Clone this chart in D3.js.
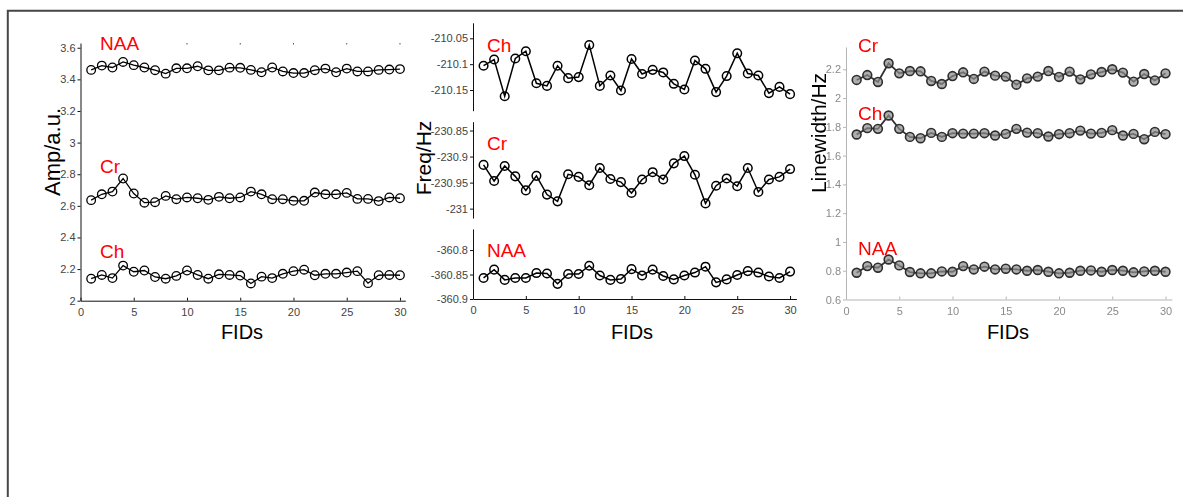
<!DOCTYPE html>
<html>
<head>
<meta charset="utf-8">
<script src="https://cdn.jsdelivr.net/npm/d3@7"></script>
<style>
  html, body { margin: 0; padding: 0; background: #fff; }
  svg { display: block; font-family: "Liberation Sans", Arial, sans-serif; }
</style>
</head>
<body>
<svg id="chart" width="1183" height="497"></svg>
<script>
// FID index shared by every panel
const fids = d3.range(1, 31);
const xTicks = [0, 5, 10, 15, 20, 25, 30];

// Amplitude (a.u.)
const ampNAA = [3.46, 3.487, 3.475, 3.51, 3.49, 3.475, 3.458, 3.436, 3.47, 3.47,
                3.483, 3.457, 3.457, 3.474, 3.473, 3.46, 3.445, 3.475, 3.45, 3.44,
                3.44, 3.458, 3.468, 3.445, 3.468, 3.45, 3.45, 3.46, 3.462, 3.465];
const ampCr  = [2.636, 2.673, 2.69, 2.773, 2.678, 2.62, 2.623, 2.663, 2.642, 2.653,
                2.648, 2.638, 2.657, 2.648, 2.653, 2.69, 2.673, 2.642, 2.642, 2.632,
                2.632, 2.684, 2.673, 2.673, 2.682, 2.644, 2.644, 2.63, 2.653, 2.648];
const ampCh  = [2.139, 2.163, 2.143, 2.222, 2.183, 2.191, 2.15, 2.139, 2.157, 2.191,
                2.163, 2.139, 2.167, 2.163, 2.159, 2.109, 2.152, 2.143, 2.17, 2.187,
                2.196, 2.161, 2.17, 2.17, 2.178, 2.187, 2.111, 2.161, 2.163, 2.161];
const ampTicks = [2, 2.2, 2.4, 2.6, 2.8, 3, 3.2, 3.4, 3.6];

// Frequency (Hz)
const freqCh  = [-210.103, -210.091, -210.162, -210.089, -210.075, -210.137, -210.142, -210.103, -210.127, -210.125,
                 -210.063, -210.142, -210.122, -210.151, -210.09, -210.119, -210.111, -210.116, -210.138, -210.149,
                 -210.093, -210.109, -210.154, -210.123, -210.079, -210.118, -210.122, -210.156, -210.144, -210.158];
const freqCr  = [-230.916, -230.947, -230.918, -230.938, -230.965, -230.937, -230.973, -230.986, -230.934, -230.939,
                 -230.955, -230.922, -230.943, -230.949, -230.97, -230.944, -230.93, -230.944, -230.913, -230.899,
                 -230.935, -230.99, -230.956, -230.942, -230.957, -230.922, -230.968, -230.944, -230.939, -230.924];
const freqNAA = [-360.857, -360.84, -360.861, -360.857, -360.857, -360.847, -360.848, -360.869, -360.849, -360.849,
                 -360.832, -360.852, -360.861, -360.859, -360.839, -360.852, -360.84, -360.853, -360.86, -360.852,
                 -360.846, -360.834, -360.866, -360.86, -360.851, -360.843, -360.846, -360.854, -360.857, -360.844];
const freqChTicks  = [-210.15, -210.1, -210.05];
const freqCrTicks  = [-231, -230.95, -230.9, -230.85];
const freqNAATicks = [-360.9, -360.85, -360.8];

// Linewidth (Hz)
const lwCr  = [2.126, 2.16, 2.112, 2.242, 2.172, 2.188, 2.186, 2.119, 2.098, 2.153,
               2.179, 2.133, 2.184, 2.156, 2.149, 2.093, 2.137, 2.149, 2.188, 2.147,
               2.184, 2.13, 2.165, 2.181, 2.2, 2.177, 2.114, 2.167, 2.123, 2.172];
const lwCh  = [1.747, 1.791, 1.786, 1.879, 1.786, 1.73, 1.721, 1.758, 1.73, 1.756,
               1.753, 1.753, 1.756, 1.74, 1.751, 1.786, 1.76, 1.756, 1.733, 1.749,
               1.756, 1.774, 1.753, 1.758, 1.777, 1.74, 1.751, 1.714, 1.765, 1.749];
const lwNAA = [0.786, 0.832, 0.821, 0.878, 0.837, 0.791, 0.782, 0.782, 0.795, 0.793,
               0.832, 0.809, 0.828, 0.809, 0.814, 0.809, 0.8, 0.805, 0.793, 0.782,
               0.786, 0.8, 0.802, 0.793, 0.805, 0.8, 0.789, 0.795, 0.8, 0.793];
const lwTicks = [0.6, 0.8, 1, 1.2, 1.4, 1.6, 1.8, 2, 2.2];

const svg = d3.select("#chart");
const fmt = v => String(+v.toFixed(2));

// outer frame (top and left edges)
svg.append("path")
  .attr("d", "M7.8,497 V10.8 H1183")
  .attr("fill", "none").attr("stroke", "#464646").attr("stroke-width", 2);

const defs = svg.append("defs");
defs.append("filter").attr("id", "soft")
  .attr("x", "-5%").attr("y", "-5%").attr("width", "110%").attr("height", "110%")
  .append("feGaussianBlur").attr("stdDeviation", 0.55);

function styleAxis(g, opt) {
  g.select(".domain").attr("stroke", opt.axisColor).attr("stroke-width", opt.axisWidth || 1);
  g.selectAll(".tick line").attr("stroke", opt.axisColor);
  g.selectAll(".tick text").attr("fill", opt.textColor)
    .style("font-size", "11px").style("font-family", "'Liberation Sans', Arial, sans-serif");
}

function yAxis(g, y, x0, ticks, opt) {
  const a = g.append("g").attr("transform", `translate(${x0},0)`)
    .call(d3.axisLeft(y).tickValues(ticks).tickFormat(fmt)
      .tickSizeInner(3).tickSizeOuter(0).tickPadding(2));
  styleAxis(a, opt);
}

function xAxis(g, x, y0, opt) {
  const a = g.append("g").attr("transform", `translate(0,${y0})`)
    .call(d3.axisBottom(x).tickValues(xTicks).tickFormat(fmt)
      .tickSizeInner(-3).tickSizeOuter(0).tickPadding(7.5));
  styleAxis(a, opt);
}

function series(g, x, y, values, opt) {
  const pts = fids.map((f, i) => [f, values[i]]);
  g.append("path")
    .attr("d", d3.line().x(d => x(d[0])).y(d => y(d[1]))(pts))
    .attr("fill", "none").attr("stroke", opt.line).attr("stroke-width", opt.lineWidth);
  g.selectAll(null).data(pts).join("circle")
    .attr("cx", d => x(d[0])).attr("cy", d => y(d[1])).attr("r", opt.r)
    .attr("fill", opt.fill).attr("fill-opacity", opt.fillOpacity || 1)
    .attr("stroke", opt.stroke).attr("stroke-width", opt.strokeWidth);
}

function tag(g, x, y, name, fid, value) {
  g.append("text").attr("x", x(fid)).attr("y", y(value))
    .attr("fill", "#ff0000").style("font-size", "19px").text(name);
}

function yTitle(g, cx, cy, text, size) {
  g.append("text").attr("transform", `translate(${cx},${cy}) rotate(-90)`)
    .attr("text-anchor", "middle").attr("fill", "#000")
    .style("font-size", size + "px").text(text);
}

function xTitle(g, cx, text) {
  g.append("text").attr("x", cx).attr("y", 339).attr("text-anchor", "middle")
    .attr("fill", "#000").style("font-size", "20px").text(text);
}

// ---- Amplitude panel ----
{
  const g = svg.append("g");
  const x = d3.scaleLinear().domain([0, 30.5]).range([80.5, 405.3]);
  const y = d3.scaleLinear().domain([2, 3.63]).range([300.7, 43]);
  const ax = { axisColor: "#111", textColor: "#444" };
  yAxis(g, y, x(0), ampTicks, ax);
  xAxis(g, x, y(2), ax);
  // tick marks along the top edge of the box
  g.selectAll(null).data(xTicks.filter(t => t > 5)).join("line")
    .attr("x1", d => x(d)).attr("x2", d => x(d))
    .attr("y1", y(3.63)).attr("y2", y(3.63) + 1.5)
    .attr("stroke", "#555");
  const st = { line: "#000", lineWidth: 1.3, r: 4.3, fill: "none", stroke: "#000", strokeWidth: 1.3 };
  series(g, x, y, ampNAA, st);
  series(g, x, y, ampCr, st);
  series(g, x, y, ampCh, st);
  tag(g, x, y, "NAA", 1.83, 3.588);
  tag(g, x, y, "Cr", 1.83, 2.808);
  tag(g, x, y, "Ch", 1.83, 2.27);
  yTitle(g, 60, 152, "Amp/a.u.", 22);
  xTitle(g, 242, "FIDs");
}

// ---- Frequency panel (three stacked axes) ----
{
  const g = svg.append("g");
  const x = d3.scaleLinear().domain([0, 30.6]).range([473, 796.4]);
  const yCh  = d3.scaleLinear().domain([-210.19, -210.02]).range([110.7, 22.8]);
  const yCr  = d3.scaleLinear().domain([-231.018, -230.833]).range([218, 121.7]);
  const yNAA = d3.scaleLinear().domain([-360.9, -360.757]).range([299, 229]);
  const ax = { axisColor: "#111", textColor: "#444" };
  yAxis(g, yCh, x(0), freqChTicks, ax);
  yAxis(g, yCr, x(0), freqCrTicks, ax);
  yAxis(g, yNAA, x(0), freqNAATicks, ax);
  xAxis(g, x, yNAA(-360.9), ax);
  const st = { line: "#000", lineWidth: 1.5, r: 4.3, fill: "none", stroke: "#000", strokeWidth: 1.5 };
  series(g, x, yCh, freqCh, st);
  series(g, x, yCr, freqCr, st);
  series(g, x, yNAA, freqNAA, st);
  tag(g, x, yCh, "Ch", 1.32, -210.0765);
  tag(g, x, yCr, "Cr", 1.32, -230.8875);
  tag(g, x, yNAA, "NAA", 1.32, -360.8143);
  yTitle(g, 431, 158, "Freq/Hz", 21);
  xTitle(g, 632, "FIDs");
}

// ---- Linewidth panel ----
{
  const outer = svg.append("g");
  const g = outer.append("g").attr("filter", "url(#soft)");
  const x = d3.scaleLinear().domain([0, 30.6]).range([846, 1171.9]);
  const y = d3.scaleLinear().domain([0.6, 2.355]).range([299.5, 47]);
  const ax = { axisColor: "#b5b5b5", textColor: "#8a8a8a" };
  yAxis(g, y, x(0), lwTicks, ax);
  xAxis(g, x, y(0.6), ax);
  const st = { line: "#333", lineWidth: 1.8, r: 4.4, fill: "#8c8c8c", fillOpacity: 0.7,
               stroke: "#2e2e2e", strokeWidth: 1.6 };
  series(g, x, y, lwCr, st);
  series(g, x, y, lwCh, st);
  series(g, x, y, lwNAA, st);
  tag(outer, x, y, "Cr", 1.13, 2.32);
  tag(outer, x, y, "Ch", 1.13, 1.847);
  tag(outer, x, y, "NAA", 1.13, 0.909);
  yTitle(outer, 826, 133, "Linewidth/Hz", 21);
  xTitle(outer, 1008, "FIDs");
}
</script>
</body>
</html>
